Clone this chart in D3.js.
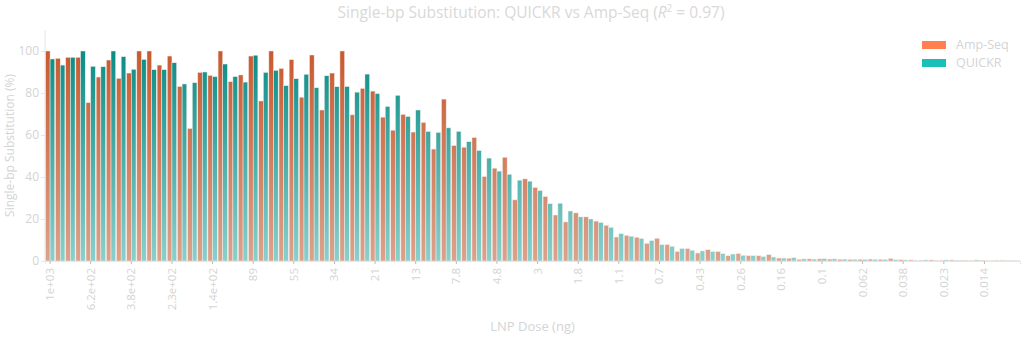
<!DOCTYPE html>
<html>
<head>
<meta charset="utf-8">
<script src="https://cdn.jsdelivr.net/npm/d3@7"></script>
<style>
  html, body { margin: 0; padding: 0; background: #fff; }
  svg { display: block; font-family: "Open Sans", "Noto Sans", sans-serif; }
</style>
</head>
<body>
<svg id="chart" width="1024" height="339"></svg>
<script>
// ---- data ----
const categories = [
  "1e+03","8.9e+02","7.8e+02","7e+02","6.2e+02","5.5e+02","4.8e+02","4.3e+02",
  "3.8e+02","3.4e+02","3e+02","2.6e+02","2.3e+02","2.1e+02","1.8e+02","1.6e+02",
  "1.4e+02","1.3e+02","1.1e+02","1e+02","89","78","70","62",
  "55","48","43","38","34","30","26","23",
  "21","18","16","14","13","11","10","8.9",
  "7.8","7","6.2","5.5","4.8","4.3","3.8","3.4",
  "3","2.6","2.3","2.1","1.8","1.6","1.4","1.3",
  "1.1","1","0.89","0.78","0.7","0.62","0.55","0.48",
  "0.43","0.38","0.34","0.3","0.26","0.23","0.21","0.18",
  "0.16","0.14","0.13","0.11","0.1","0.089","0.078","0.07",
  "0.062","0.055","0.048","0.043","0.038","0.034","0.03","0.026",
  "0.023","0.021","0.018","0.016","0.014","0.013","0.011","0.01"
];
const ampSeq = [
  100, 96.5, 97, 97, 75.4, 87.6, 95.7, 87, 89.5, 100, 100, 93.3, 97.6, 83.1, 63.1, 89.8,
  88.4, 100, 85.4, 88.6, 97.6, 76.2, 100, 91.7, 95.9, 78, 98.1, 71.9, 89.5, 100, 69.6, 82.2,
  80.9, 68.5, 62.3, 69.8, 61.4, 66, 53.3, 77.1, 55, 54.2, 58.8, 40.2, 44.2, 49.4, 29.1, 39.1,
  35, 30.7, 21.9, 18.6, 22.9, 21, 19, 17, 11.4, 12.2, 11.3, 8.4, 10.8, 7.8, 4.5, 5.9,
  3.8, 5.4, 4.5, 2.5, 3.5, 2.5, 2.5, 3, 1.4, 1.3, 0.8, 1.0, 1.0, 0.9, 0.8, 0.7,
  0.8, 0.9, 0.8, 1.2, 0.6, 0.5, 0.4, 0.5, 0.4, 0.5, 0.4, 0.3, 0.4, 0.3, 0.4, 0.3
];
const quickr = [
  96.2, 93.3, 97, 100, 92.7, 92.5, 100, 97.3, 91.3, 96, 91.1, 91.1, 94.4, 84.3, 84.9, 90,
  87.8, 93.8, 87.8, 85.2, 98, 89.8, 90.8, 83.5, 86.8, 88.9, 82.5, 88.2, 83, 83.1, 80.4, 89,
  79.7, 73.6, 78.9, 68.8, 71.9, 61.7, 61.2, 63.4, 61.7, 56.8, 52.6, 49, 42.8, 41.3, 38.5, 38,
  33.5, 27.3, 27.5, 23.8, 21, 20, 18.3, 16, 13, 11.8, 10.7, 9.7, 7.8, 7, 5.9, 5.1,
  4.8, 4.5, 3.5, 3.3, 2.7, 2.5, 2.1, 1.9, 1.4, 1.6, 1.0, 0.9, 1.1, 1.0, 0.9, 0.8,
  0.7, 0.8, 0.7, 0.6, 0.5, 0.4, 0.5, 0.4, 0.5, 0.4, 0.4, 0.5, 0.3, 0.4, 0.3, 0.3
];
const seriesNames = ["Amp-Seq", "QUICKR"];
const yTicks = [0, 20, 40, 60, 80, 100];
const tickEvery = 4;
const titleText = "Single-bp Substitution: QUICKR vs Amp-Seq (";
const xTitle = "LNP Dose (ng)";
const yTitle = "Single-bp Substitution (%)";

// ---- layout ----
const svg = d3.select("#chart");
const margin = { left: 45, right: 4, top: 30, bottom: 78 };
const W = 1024, H = 339;
const plotL = margin.left, plotR = W - margin.right;
const plotT = margin.top, plotB = 261;

const textColor = "#d4d4d4";
const axisColor = "#e6e6e6";

const x0 = d3.scaleBand().domain(categories).range([plotL, plotR]).paddingInner(0.08).paddingOuter(0.04);
const x1 = d3.scaleBand().domain(seriesNames).range([0, x0.bandwidth()]).padding(0);
const y = d3.scaleLinear().domain([0, 110]).range([plotB, plotT]);

// gradients
const defs = svg.append("defs");
const grads = [
  { id: "gAmp", top: "#c9592f", bottom: "#dca28c" },
  { id: "gQ", top: "#0a8c86", bottom: "#8ad0cc" }
];
grads.forEach(g => {
  const lg = defs.append("linearGradient").attr("id", g.id)
    .attr("gradientUnits", "userSpaceOnUse")
    .attr("x1", 0).attr("x2", 0).attr("y1", y(100)).attr("y2", y(0));
  lg.append("stop").attr("offset", "0%").attr("stop-color", g.top);
  lg.append("stop").attr("offset", "100%").attr("stop-color", g.bottom);
});

// title
const title = svg.append("text").attr("x", 531).attr("y", 18)
  .attr("text-anchor", "middle").attr("fill", "#d9d9d9")
  .attr("font-size", 15.5);
title.append("tspan").text(titleText);
title.append("tspan").attr("font-style", "italic").text("R");
title.append("tspan").attr("font-size", 10).attr("dy", -6).text("2");
title.append("tspan").attr("dy", 6).text(" = 0.97)");

// bars
const rows = categories.map((c, i) => ({ c, vals: [ampSeq[i], quickr[i]] }));
const g = svg.append("g");
const grp = g.selectAll("g.grp").data(rows).join("g")
  .attr("transform", d => `translate(${x0(d.c)},0)`);
grp.selectAll("rect").data(d => d.vals.map((v, k) => ({ k, v }))).join("rect")
  .attr("x", d => x1(seriesNames[d.k]))
  .attr("width", x1.bandwidth())
  .attr("y", d => y(d.v))
  .attr("height", d => y(0) - y(d.v))
  .attr("fill", d => d.k === 0 ? "url(#gAmp)" : "url(#gQ)")
  .attr("stroke", "#f4ece8")
  .attr("stroke-width", 0.5);

// y axis
const yAxis = d3.axisLeft(y).tickValues(yTicks).tickSize(4).tickPadding(2);
const ya = svg.append("g").attr("transform", `translate(${plotL},0)`).call(yAxis);
ya.select(".domain").attr("stroke", axisColor).attr("d", `M0,${plotT}V${plotB}`);
ya.selectAll(".tick line").attr("stroke", axisColor);
ya.selectAll(".tick text").attr("fill", textColor).attr("font-size", 12)
  .attr("font-family", "'Open Sans', sans-serif");

// x axis
const xTickVals = categories.filter((c, i) => i % tickEvery === 0);
const xAxis = d3.axisBottom(x0).tickValues(xTickVals).tickSize(3).tickPadding(4);
const xa = svg.append("g").attr("transform", `translate(0,${plotB})`).call(xAxis);
xa.select(".domain").attr("stroke", axisColor);
xa.selectAll(".tick line").attr("stroke", "#bbbbbb");
xa.selectAll(".tick text")
  .attr("fill", textColor).attr("font-size", 11.5)
  .attr("font-family", "'Open Sans', sans-serif")
  .attr("text-anchor", "end")
  .attr("dy", "0.35em")
  .attr("transform", "translate(0,7) rotate(-90)")
  .attr("x", 0).attr("y", 0);

// axis titles
svg.append("text").attr("x", (plotL + plotR) / 2).attr("y", 331)
  .attr("text-anchor", "middle").attr("fill", textColor).attr("font-size", 13)
  .text(xTitle);
svg.append("text").attr("transform", `translate(14,${(plotT + plotB) / 2}) rotate(-90)`)
  .attr("text-anchor", "middle").attr("fill", textColor).attr("font-size", 12)
  .text(yTitle);

// legend
const legendColors = ["#ff7f50", "#18c0b8"];
const lg = svg.append("g").attr("transform", "translate(922,41)");
seriesNames.forEach((n, i) => {
  lg.append("rect").attr("x", 0).attr("y", i * 18).attr("width", 24).attr("height", 8)
    .attr("fill", legendColors[i]);
  lg.append("text").attr("x", 34).attr("y", i * 18 + 4).attr("dy", "0.35em")
    .attr("fill", textColor).attr("font-size", 12.5).text(n);
});
</script>
</body>
</html>
